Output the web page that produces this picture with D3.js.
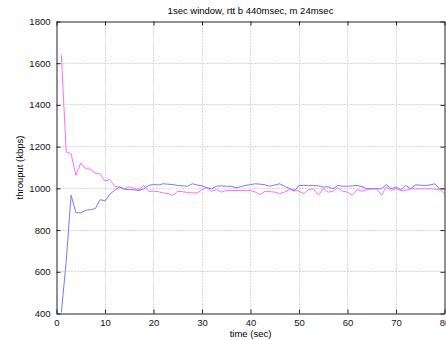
<!DOCTYPE html>
<html>
<head>
<meta charset="utf-8">
<script src="https://cdn.jsdelivr.net/npm/d3@7"></script>
<style>
  body { margin: 0; background: #fff; }
  text { font-family: "Liberation Sans", Arial, sans-serif; }
</style>
</head>
<body>
<svg id="svg-chart"></svg>
<script>
const width = 446;
const height = 340;
const margin = { left: 56.5, right: 1.5, top: 21.5, bottom: 26.5 };

// time in seconds
const times = d3.range(1, 81);

// magenta series (kbps)
const magenta = [
  1640, 1175, 1166, 1062, 1121, 1094, 1092, 1073, 1070, 1035,
  1042, 1010, 1006, 998, 1008, 1000, 994, 1014, 986, 986,
  984, 978, 975, 967, 986, 984, 980, 978, 978, 994,
  1003, 986, 994, 982, 990, 990, 990, 990, 990, 990,
  982, 970, 986, 984, 982, 975, 982, 994, 994, 986,
  975, 994, 998, 967, 998, 982, 986, 1003, 986, 982,
  967, 994, 986, 994, 998, 998, 967, 1006, 990, 998,
  990, 990, 998, 998, 998, 998, 998, 996, 994, 975,
];

// blue series (kbps)
const blue = [
  405, 650, 967, 884, 882, 895, 898, 903, 946, 940,
  972, 991, 1006, 995, 994, 993, 990, 998, 1014, 1019,
  1016, 1022, 1020, 1018, 1014, 1012, 1010, 1022, 1016, 1012,
  1003, 998, 1010, 1012, 1010, 1010, 1003, 1008, 1014, 1018,
  1022, 1020, 1017, 1010, 1016, 1022, 1010, 1000, 986, 1014,
  1014, 1014, 1014, 1012, 1006, 1008, 998, 1014, 1010, 1010,
  1012, 1014, 1008, 998, 998, 998, 998, 1019, 998, 1006,
  994, 1014, 998, 1017, 1015, 1014, 1016, 1022, 998, 998,
];

const xTicks = [0, 10, 20, 30, 40, 50, 60, 70, 80];
const yTicks = [400, 600, 800, 1000, 1200, 1400, 1600, 1800];

const svg = d3.select("#svg-chart").attr("width", width).attr("height", height);

const plotWidth = width - margin.left - margin.right;
const plotHeight = height - margin.top - margin.bottom;

const xScale = d3.scaleLinear().domain([0, 80]).range([0, plotWidth]);
const yScale = d3.scaleLinear().domain([400, 1800]).range([plotHeight, 0]);

const g = svg.append("g")
  .attr("transform", "translate(" + margin.left + "," + margin.top + ")");

// dotted grid
g.selectAll(".vgrid")
  .data(xTicks.slice(1, -1))
  .join("line")
  .attr("x1", d => Math.round(xScale(d)))
  .attr("x2", d => Math.round(xScale(d)))
  .attr("y1", 0)
  .attr("y2", plotHeight)
  .attr("stroke", "#b4b4b4")
  .attr("stroke-dasharray", "1,2");

g.selectAll(".hgrid")
  .data(yTicks.slice(1, -1))
  .join("line")
  .attr("x1", 0)
  .attr("x2", plotWidth)
  .attr("y1", d => Math.round(yScale(d)))
  .attr("y2", d => Math.round(yScale(d)))
  .attr("stroke", "#b4b4b4")
  .attr("stroke-dasharray", "1,2");

// series
const line = d3.line()
  .x((d, i) => xScale(times[i]))
  .y(d => yScale(d));

g.append("path")
  .datum(magenta)
  .attr("fill", "none")
  .attr("stroke", "#ff6eff")
  .attr("stroke-width", 1)
  .attr("d", line);

g.append("path")
  .datum(blue)
  .attr("fill", "none")
  .attr("stroke", "#7878ff")
  .attr("stroke-width", 1)
  .attr("d", line);

// axes, ticks pointing inward
const fmt = d3.format("d");
const axisBottom = d3.axisBottom(xScale).tickValues(xTicks).tickFormat(fmt).tickSize(-4).tickPadding(6).tickSizeOuter(0);
const axisLeft = d3.axisLeft(yScale).tickValues(yTicks).tickFormat(fmt).tickSize(-4).tickPadding(6).tickSizeOuter(0);
const axisTop = d3.axisTop(xScale).tickValues(xTicks).tickSize(-4).tickFormat("").tickSizeOuter(0);
const axisRight = d3.axisRight(yScale).tickValues(yTicks).tickSize(-4).tickFormat("").tickSizeOuter(0);

g.append("g").attr("transform", "translate(0," + plotHeight + ")").call(axisBottom);
g.append("g").call(axisLeft);
g.append("g").call(axisTop);
g.append("g").attr("transform", "translate(" + plotWidth + ",0)").call(axisRight);

g.selectAll(".domain").attr("stroke", "#222");
g.selectAll(".tick line").attr("stroke", "#222");
g.selectAll(".tick text").attr("font-size", 9.5).attr("fill", "#111")
  .attr("font-family", "'Liberation Sans', Arial, sans-serif");

// title and labels
svg.append("text")
  .attr("x", margin.left + plotWidth / 2)
  .attr("y", 14)
  .attr("text-anchor", "middle")
  .attr("font-size", 9.5)
  .text("1sec window, rtt b 440msec, m 24msec");

svg.append("text")
  .attr("x", margin.left + plotWidth / 2)
  .attr("y", 337)
  .attr("text-anchor", "middle")
  .attr("font-size", 9.5)
  .text("time (sec)");

svg.append("text")
  .attr("transform", "translate(23," + (margin.top + plotHeight / 2) + ") rotate(-90)")
  .attr("text-anchor", "middle")
  .attr("font-size", 9.5)
  .text("throuput (kbps)");
</script>
</body>
</html>
